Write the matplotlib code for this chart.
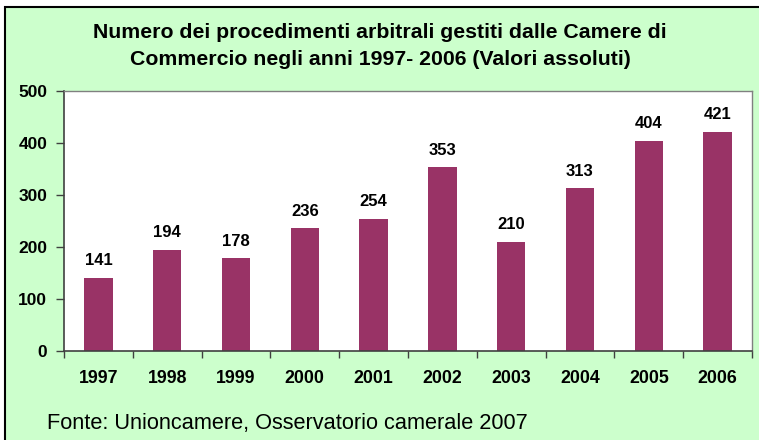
import matplotlib
matplotlib.use("Agg")
import matplotlib.pyplot as plt
from matplotlib.patches import Rectangle

years = ["1997", "1998", "1999", "2000", "2001", "2002", "2003", "2004", "2005", "2006"]
values = [141, 194, 178, 236, 254, 353, 210, 313, 404, 421]
y_ticks = [0, 100, 200, 300, 400, 500]

title = ("Numero dei procedimenti arbitrali gestiti dalle Camere di\n"
         "Commercio negli anni 1997- 2006 (Valori assoluti)")
source = "Fonte: Unioncamere, Osservatorio camerale 2007"

plt.rcParams["font.family"] = ["Liberation Sans", "DejaVu Sans"]

W, H = 759, 440
fig = plt.figure(figsize=(W / 100, H / 100), dpi=100)
fig.patch.set_facecolor("white")

# green chart area with black frame on left/top
fig.patches.append(Rectangle((5 / W, -0.1), 1.2, 1 - 7 / H + 0.1,
                             transform=fig.transFigure, facecolor="#CCFFCC",
                             edgecolor="black", linewidth=1.5, zorder=-5))

left, right, top, bottom = 64, 752, 91, 351
ax = fig.add_axes([left / W, 1 - bottom / H, (right - left) / W, (bottom - top) / H])
ax.set_zorder(2)
ax.set_facecolor("white")

x = list(range(len(years)))
ax.bar(x, values, width=0.41, color="#993366", zorder=2)
for xi, v in zip(x, values):
    ax.annotate(str(v), (xi, v), xytext=(0, 7), textcoords="offset points",
                ha="center", va="bottom", fontsize=12, fontweight="bold")

ax.set_xlim(-0.5, len(years) - 0.5)
ax.set_ylim(0, 500)
ax.set_yticks(y_ticks)
ax.set_yticklabels([str(t) for t in y_ticks], fontsize=12.5, fontweight="bold")
ax.set_xticks(x)
ax.set_xticklabels(years, fontsize=12.8, fontweight="bold")
ax.set_xticks([i - 0.5 for i in range(len(years) + 1)], minor=True)
ax.tick_params(axis="x", which="major", length=0, pad=14)
ax.tick_params(axis="x", which="minor", length=5, width=1, color="#404040", direction="out")
ax.tick_params(axis="y", length=6, width=1, color="#404040", direction="out", pad=6)

for side in ("top", "right"):
    ax.spines[side].set_color("#808080")
    ax.spines[side].set_linewidth(1)
for side in ("left", "bottom"):
    ax.spines[side].set_color("#404040")
    ax.spines[side].set_linewidth(1.2)

fig.text(380 / W, 1 - 46 / H, title, ha="center", va="center", fontsize=15.3,
         fontweight="bold", linespacing=1.55)
fig.text(47 / W, 1 - 423 / H, source, ha="left", va="center", fontsize=15.7)

fig.savefig("out.png", dpi=100, facecolor=fig.get_facecolor())
